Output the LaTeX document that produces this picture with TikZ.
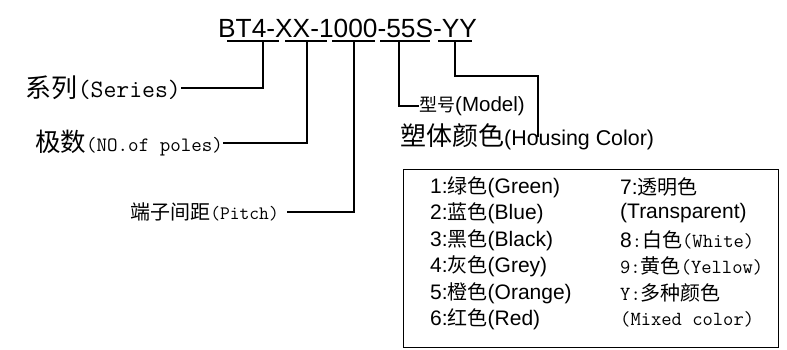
\documentclass[tikz,border=0pt]{standalone}
\usepackage{fontspec}
\setmainfont{Liberation Sans}
\newfontfamily\cjk{Noto Sans CJK SC}
\newcommand{\fs}[1]{\fontsize{#1}{#1}\selectfont}
\newcommand{\zh}[2]{{\cjk\fs{#1}#2}}
\newcommand{\zc}[1]{{\cjk\fs{20}#1}}
\tikzset{
  lead/.style={line width=1.3pt},
  lbl/.style={inner sep=0pt},
  row/.style={lbl,anchor=west,font=\fs{21}},
}
\begin{document}
\begin{tikzpicture}[x=1pt,y=-1pt]
  \useasboundingbox (0,0) rectangle (787,350);
  % part number
  \node[lbl,anchor=base west,font=\fs{26.3}] (code) at (218,37.5) {BT4-XX-1000-55S-YY};
  \foreach \a/\b/\t/\n in {227/279/263/1,285/327/307/2,332/375/354/3,380/430/399/4,438/472/455/5} {
    \draw[lead] (\a,41) -- (\b,41);
    \coordinate (t\n) at (\t,41);
  }
  % field labels
  \node[lbl,anchor=east] (series) at (181,88) {\zh{26}{系列}\ttfamily\fs{25}(Series)};
  \node[lbl,anchor=east] (poles) at (223,143) {\zh{25.5}{极数}\ttfamily\fs{20.4}(NO.of poles)};
  \node[lbl,anchor=east] (pitch) at (279,212) {\zh{20}{端子间距}\ttfamily\fs{19}(Pitch)};
  \node[lbl,anchor=west] (model) at (419,106) {\zh{18}{型号}\fs{20.5}(Model)};
  \node[lbl,anchor=base west] (housing) at (400,146) {\zh{26}{塑体颜色}\fs{21.4}(Housing Color)};
  \coordinate (bend) at (538,76);
  \coordinate (hc) at (538,137);
  \draw[lead] (t1) |- (series.east);
  \draw[lead] (t2) |- (poles.east);
  \draw[lead] (t3) |- ([xshift=8pt]pitch.east);
  \draw[lead] (t4) |- (model.west);
  \draw[lead] (t5) |- (bend) -- (hc);
  % colour table
  \node[draw,line width=0.8pt,anchor=north west,minimum width=375pt,minimum height=178pt] (legend) at (403,169) {};
  \foreach \i/\y/\s in {1/187/{1:\zc{绿色}(Green)},2/213/{2:\zc{蓝色}(Blue)},3/240/{3:\zc{黑色}(Black)},
      4/266/{4:\zc{灰色}(Grey)},5/293/{5:\zc{橙色}(Orange)},6/319/{6:\zc{红色}(Red)}}
    \node[row] (a\i) at (430,\y) {\s};
  \foreach \i/\y/\s in {7/187/{7:\zc{透明色}},8/213/{(Transparent)},9/240/{8\ttfamily\fs{20}:\zc{白色}(White)},
      10/266/{\ttfamily\fs{20}9:\zc{黄色}(Yellow)},11/293/{\ttfamily\fs{20}Y:\zc{多种颜色}},12/319/{\ttfamily\fs{20}(Mixed color)}}
    \node[row] (b\i) at (620,\y) {\s};
\end{tikzpicture}
\end{document}
